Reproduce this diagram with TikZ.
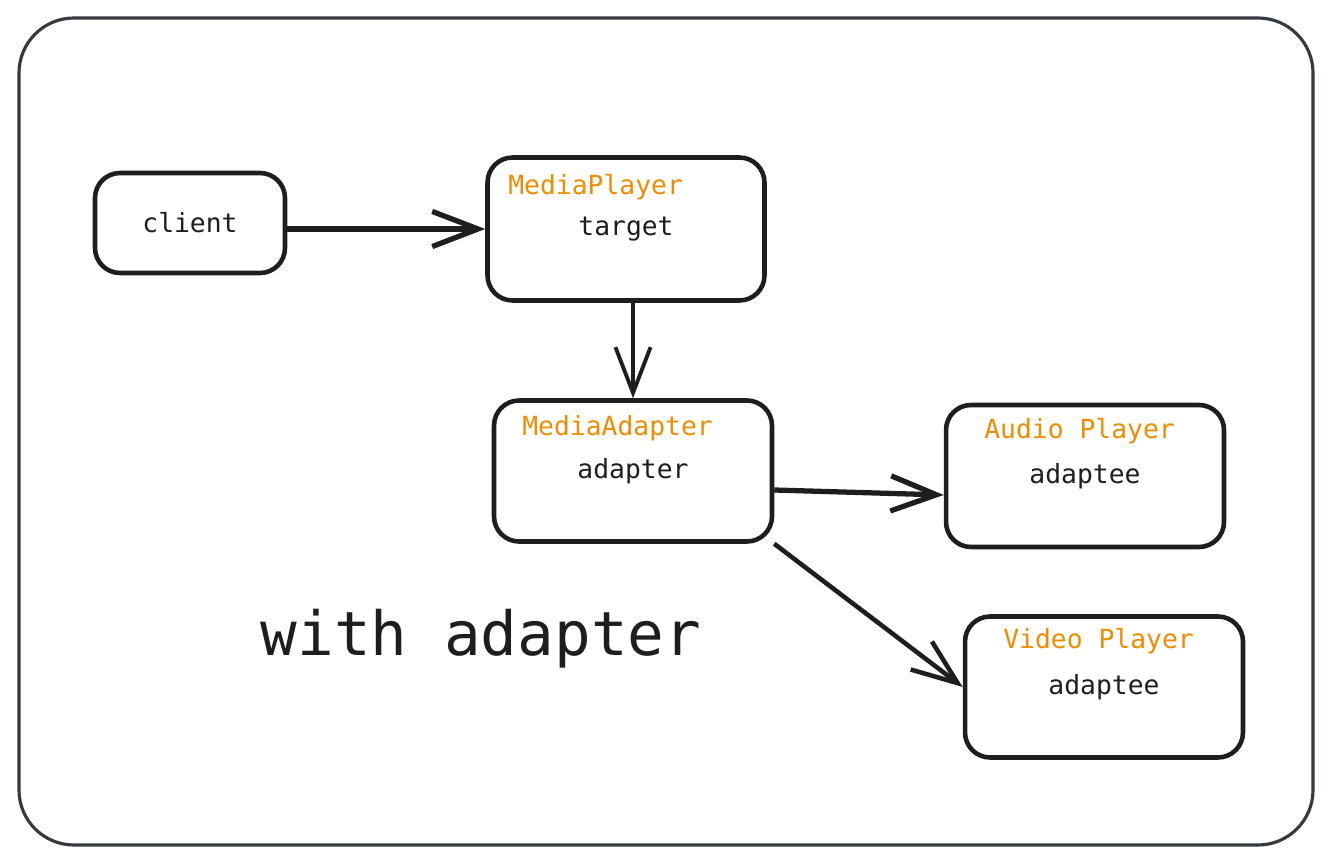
\documentclass[tikz,border=0pt]{standalone}
\usepackage{fontspec}
\setmonofont{DejaVu Sans Mono}
\usetikzlibrary{positioning}
\usetikzlibrary{calc}
\usetikzlibrary{arrows.meta}
\definecolor{ink}{HTML}{1E1E1E}
\definecolor{framegray}{HTML}{343A40}
\definecolor{titleorange}{HTML}{F08C00}

\begin{document}
\begin{tikzpicture}[x=0.02cm, y=-0.02cm,
    box/.style={draw=ink, line width=2.6pt, rounded corners=0.5cm, text=ink,
        font=\ttfamily\fontsize{15}{18}\selectfont,
        minimum width=5.56cm, minimum height=2.84cm, inner sep=0pt},
    boxtitle/.style={anchor=west, text=titleorange, inner sep=0pt,
        font=\ttfamily\fontsize{15}{18}\selectfont},
    arr/.style={draw=ink, line width=3pt,
        -{Straight Barb[length=26pt, width=20pt]}}]
    \useasboundingbox (0,0) rectangle (1332,864);
    \draw[framegray, line width=1.8pt, rounded corners=1.1cm] (19,18) rectangle (1313,845);

    \node[box, minimum width=3.8cm, minimum height=2cm] (client) at (190,223) {client};
    \node[box, minimum width=5.54cm, minimum height=2.86cm] (player) at (626,229) {target};
    \node[box, minimum height=2.82cm] (adapter) at (633,471) {adapter};
    \node[box] (audio) at (1085,476) {adaptee};
    \node[box, minimum height=2.82cm] (video) at (1104,687) {adaptee};

    \node[boxtitle] (playerT) at (508,187) {MediaPlayer};
    \node[boxtitle] (adapterT) at (522,428) {MediaAdapter};
    \node[boxtitle] (audioT) at (984,431) {Audio Player};
    \node[boxtitle] (videoT) at (1003,641) {Video Player};

    \node[anchor=base, text=ink, inner sep=0pt,
        font=\ttfamily\fontsize{34.7}{40}\selectfont] (caption) at (481,655) {with adapter};

    \draw[arr] (client.east |- player.west) -- (player.west);
    \draw[arr, line width=2.2pt] (player.south -| adapter.north) -- (adapter.north);
    \draw[arr] ($(adapter.east)+(0,19)$) -- ($(audio.west)+(0,19)$);
    \draw[arr, line width=2.6pt] (adapter.south east) -- (video.west);
\end{tikzpicture}
\end{document}
